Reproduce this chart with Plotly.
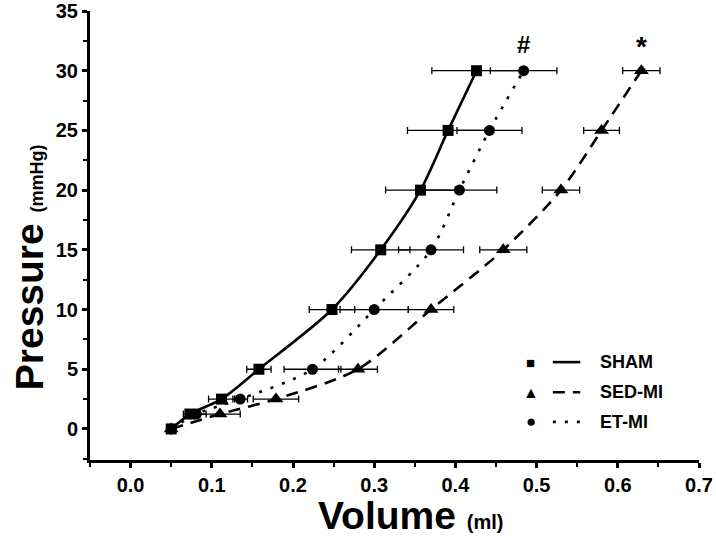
import plotly.graph_objects as go

# ---- data ----
pressure = [0, 1.25, 2.5, 5, 10, 15, 20, 25, 30]

sham_vol = [0.050, 0.073, 0.112, 0.158, 0.248, 0.308, 0.357, 0.391, 0.426]
sham_err = [0.000, 0.008, 0.016, 0.015, 0.028, 0.036, 0.043, 0.050, 0.055]

sed_vol = [0.050, 0.110, 0.179, 0.280, 0.370, 0.459, 0.530, 0.580, 0.629]
sed_err = [0.000, 0.025, 0.028, 0.024, 0.028, 0.029, 0.023, 0.022, 0.023]

et_vol = [0.050, 0.081, 0.135, 0.224, 0.300, 0.370, 0.405, 0.442, 0.484]
et_err = [0.000, 0.012, 0.009, 0.035, 0.042, 0.040, 0.046, 0.040, 0.041]

x_ticks = [0.0, 0.1, 0.2, 0.3, 0.4, 0.5, 0.6, 0.7]
x_tick_text = ["0.0", "0.1", "0.2", "0.3", "0.4", "0.5", "0.6", "0.7"]
y_ticks = [0, 5, 10, 15, 20, 25, 30, 35]
y_tick_text = ["0", "5", "10", "15", "20", "25", "30", "35"]

series = [
    ("SHAM", sham_vol, sham_err, "square", "solid"),
    ("SED-MI", sed_vol, sed_err, "triangle-up", "12px,8px"),
    ("ET-MI", et_vol, et_err, "circle", "3px,9px"),
]

FONT = "Arial, 'Liberation Sans', sans-serif"
fig = go.Figure()

for name, vol, err, sym, dash in series:
    fig.add_trace(go.Scatter(
        x=vol, y=pressure, mode="lines",
        line=dict(color="black", width=2.6, dash=dash, shape="spline", smoothing=0.8),
        showlegend=False, hoverinfo="skip"))
for name, vol, err, sym, dash in series:
    fig.add_trace(go.Scatter(
        x=vol, y=pressure, mode="markers", name=name,
        marker=dict(symbol=sym, size=11 if sym != "triangle-up" else 13, color="black"),
        error_x=dict(type="data", array=err, visible=True, color="black", thickness=1.3, width=3.5),
        showlegend=False))

# significance marks above the last points
fig.add_annotation(x=et_vol[-1], y=pressure[-1], text="<b>#</b>", showarrow=False, yshift=26,
                   xanchor="center", yanchor="middle",
                   font=dict(family=FONT, size=24, color="black"))
fig.add_annotation(x=sed_vol[-1], y=pressure[-1], text="<b>*</b>", showarrow=False, yshift=24,
                   xanchor="center", yanchor="middle",
                   font=dict(family=FONT, size=28, color="black"))

# custom legend (symbol, line sample, label)
leg_syms = ["■", "▲", "●"]
leg_sizes = [15, 16, 17]
leg_y = [0.218, 0.151, 0.085]
for (name, vol, err, sym, dash), s, fs, yy in zip(series, leg_syms, leg_sizes, leg_y):
    fig.add_annotation(xref="paper", yref="paper", x=0.724, y=yy, text=s, showarrow=False,
                       xanchor="center", yanchor="middle",
                       font=dict(family=FONT, size=fs, color="black"))
    fig.add_shape(type="line", xref="paper", yref="paper", x0=0.760, x1=0.805, y0=yy, y1=yy,
                  line=dict(color="black", width=2.6, dash=dash))
    fig.add_annotation(xref="paper", yref="paper", x=0.834, y=yy, text="<b>" + name + "</b>",
                       showarrow=False, xanchor="left", yanchor="middle",
                       font=dict(family=FONT, size=18, color="black"))

# axis titles
fig.add_annotation(xref="paper", yref="paper", x=0.527, y=-0.1225,
                   xanchor="center", yanchor="middle",
                   text="<b>Volume</b> <span style='font-size:20px'><b>(ml)</b></span>",
                   showarrow=False, font=dict(family=FONT, size=39, color="black"))
fig.add_annotation(xref="paper", yref="paper", x=-0.098, y=0.43, textangle=-90,
                   xanchor="center", yanchor="middle",
                   text="<b>Pressure</b> <span style='font-size:18px'><b>(mmHg)</b></span>",
                   showarrow=False, font=dict(family=FONT, size=39, color="black"))

fig.update_layout(
    width=716, height=538,
    margin=dict(l=90, r=17, t=11, b=78),
    paper_bgcolor="white", plot_bgcolor="white",
    font=dict(family=FONT, color="black"),
    showlegend=False,
)
fig.update_xaxes(
    range=[-0.05, 0.7], tickvals=x_ticks, ticktext=["<b>" + t + "</b>" for t in x_tick_text],
    automargin=False, ticklabeloverflow="allow",
    showgrid=False, zeroline=False, showline=True, linecolor="black", linewidth=3,
    ticks="outside", ticklen=5, tickwidth=3, tickcolor="black",
    minor=dict(ticks="outside", ticklen=4, tickwidth=2, tickcolor="black", dtick=0.05, tick0=0.05),
    tickfont=dict(family=FONT, size=20, color="black"),
)
fig.update_yaxes(
    range=[-2.6, 35], tickvals=y_ticks, ticktext=["<b>" + t + "</b>" for t in y_tick_text],
    automargin=False, ticklabeloverflow="allow",
    showgrid=False, zeroline=False, showline=True, linecolor="black", linewidth=3,
    ticks="outside", ticklen=5, tickwidth=3, tickcolor="black",
    minor=dict(ticks="outside", ticklen=4, tickwidth=2, tickcolor="black", dtick=2.5, tick0=2.5),
    tickfont=dict(family=FONT, size=20, color="black"),
)

# remove the browser's default 8px body margin so the figure fills the window exactly
fig.write_html("out.html", config={"displayModeBar": False},
               post_script="document.body.style.margin='0px';")
